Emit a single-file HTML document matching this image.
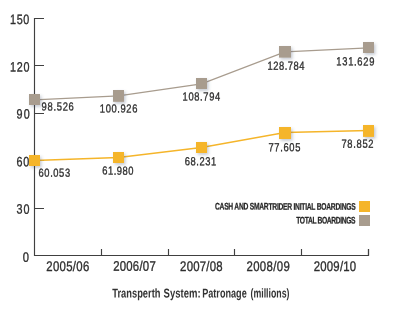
<!DOCTYPE html>
<html><head><meta charset="utf-8">
<style>
html,body{margin:0;padding:0;background:#fff;width:394px;height:310px;overflow:hidden}
svg{display:block;will-change:transform}
text{font-family:"Liberation Sans",sans-serif}
</style></head><body>
<svg width="394" height="310" viewBox="0 0 394 310">
<defs>
<filter id="sh" x="-50%" y="-50%" width="200%" height="200%">
<feDropShadow dx="1.5" dy="1.8" stdDeviation="1.5" flood-color="#40506a" flood-opacity="0.3"/>
</filter>
</defs>
<g stroke="#404040" stroke-width="1.15" fill="none">
<path d="M44 18.5H34.5V255.5H368.5V249"/>
<path d="M34.5 65.5H44M34.5 113.5H44M34.5 160.5H44M34.5 208.5H44M101.5 255.5V249M168.5 255.5V249M234.5 255.5V249M301.5 255.5V249M368.5 255.5V249"/>
</g>
<polyline points="34.5,99.8 118.5,95.8 201.5,83.8 285,51.8 368.5,47.8" fill="none" stroke="#a89c8e" stroke-width="1.3"/>
<polyline points="34.5,160.5 118.5,157.5 201.5,147.5 285,132.5 368.5,130.5" fill="none" stroke="#f5b52a" stroke-width="1.3"/>
<g filter="url(#sh)">
<rect x="29" y="94" width="11" height="11" fill="#a89c8e"/><rect x="113" y="90" width="11" height="11.8" fill="#a89c8e"/><rect x="196" y="78" width="11" height="11" fill="#a89c8e"/><rect x="279" y="46" width="12" height="11.6" fill="#a89c8e"/><rect x="363" y="42" width="11" height="11" fill="#a89c8e"/>
<rect x="29" y="155" width="11" height="11" fill="#f5b52a"/><rect x="113" y="152" width="11" height="11" fill="#f5b52a"/><rect x="196" y="142" width="11" height="11" fill="#f5b52a"/><rect x="279" y="127" width="12" height="12" fill="#f5b52a"/><rect x="363" y="125" width="11" height="11.9" fill="#f5b52a"/>
</g>
<rect x="359" y="201" width="11" height="11" fill="#f5b52a"/>
<rect x="359" y="215" width="11" height="11" fill="#a89c8e"/>
<text transform="translate(10.11,24.02) skewY(0.05) scale(0.8,1)" text-rendering="geometricPrecision" font-size="13.50" textLength="24.02" lengthAdjust="spacing" fill="#2e2e2e" stroke="#2e2e2e" stroke-width="0.35">150</text>
<text transform="translate(9.91,71.40) skewY(0.05) scale(0.8,1)" text-rendering="geometricPrecision" font-size="13.50" textLength="24.60" lengthAdjust="spacing" fill="#2e2e2e" stroke="#2e2e2e" stroke-width="0.35">120</text>
<text transform="translate(16.50,118.54) skewY(0.05) scale(0.8,1)" text-rendering="geometricPrecision" font-size="13.50" textLength="16.59" lengthAdjust="spacing" fill="#2e2e2e" stroke="#2e2e2e" stroke-width="0.35">90</text>
<text transform="translate(16.40,166.36) skewY(0.05) scale(0.8,1)" text-rendering="geometricPrecision" font-size="13.50" textLength="16.09" lengthAdjust="spacing" fill="#2e2e2e" stroke="#2e2e2e" stroke-width="0.35">60</text>
<text transform="translate(16.44,213.62) skewY(0.05) scale(0.8,1)" text-rendering="geometricPrecision" font-size="13.50" textLength="16.45" lengthAdjust="spacing" fill="#2e2e2e" stroke="#2e2e2e" stroke-width="0.35">30</text>
<text transform="translate(22.86,261.69) skewY(0.05)" text-rendering="geometricPrecision" font-size="13.50" textLength="6.24" lengthAdjust="spacingAndGlyphs" fill="#2e2e2e" stroke="#2e2e2e" stroke-width="0.35">0</text>
<text transform="translate(46.33,271.02) skewY(0.05) scale(0.82,1)" text-rendering="geometricPrecision" font-size="13.90" textLength="52.40" lengthAdjust="spacing" fill="#2e2e2e" stroke="#2e2e2e" stroke-width="0.35">2005/06</text>
<text transform="translate(113.13,270.74) skewY(0.05) scale(0.82,1)" text-rendering="geometricPrecision" font-size="13.90" textLength="52.02" lengthAdjust="spacing" fill="#2e2e2e" stroke="#2e2e2e" stroke-width="0.35">2006/07</text>
<text transform="translate(180.08,270.93) skewY(0.05) scale(0.82,1)" text-rendering="geometricPrecision" font-size="13.90" textLength="51.94" lengthAdjust="spacing" fill="#2e2e2e" stroke="#2e2e2e" stroke-width="0.35">2007/08</text>
<text transform="translate(246.52,270.90) skewY(0.05) scale(0.82,1)" text-rendering="geometricPrecision" font-size="13.90" textLength="52.70" lengthAdjust="spacing" fill="#2e2e2e" stroke="#2e2e2e" stroke-width="0.35">2008/09</text>
<text transform="translate(313.68,270.91) skewY(0.05) scale(0.82,1)" text-rendering="geometricPrecision" font-size="13.90" textLength="51.83" lengthAdjust="spacing" fill="#2e2e2e" stroke="#2e2e2e" stroke-width="0.35">2009/10</text>
<text transform="translate(41.53,110.38) skewY(0.05) scale(0.8,1)" text-rendering="geometricPrecision" font-size="11.70" textLength="40.34" lengthAdjust="spacing" fill="#2e2e2e" stroke="#2e2e2e" stroke-width="0.35">98.526</text>
<text transform="translate(99.85,112.56) skewY(0.05) scale(0.8,1)" text-rendering="geometricPrecision" font-size="11.70" textLength="46.88" lengthAdjust="spacing" fill="#2e2e2e" stroke="#2e2e2e" stroke-width="0.35">100.926</text>
<text transform="translate(182.58,100.42) skewY(0.05) scale(0.8,1)" text-rendering="geometricPrecision" font-size="11.70" textLength="47.07" lengthAdjust="spacing" fill="#2e2e2e" stroke="#2e2e2e" stroke-width="0.35">108.794</text>
<text transform="translate(267.47,69.83) skewY(0.05) scale(0.8,1)" text-rendering="geometricPrecision" font-size="11.70" textLength="46.26" lengthAdjust="spacing" fill="#2e2e2e" stroke="#2e2e2e" stroke-width="0.35">128.784</text>
<text transform="translate(336.32,65.36) skewY(0.05) scale(0.8,1)" text-rendering="geometricPrecision" font-size="11.70" textLength="47.57" lengthAdjust="spacing" fill="#2e2e2e" stroke="#2e2e2e" stroke-width="0.35">131.629</text>
<text transform="translate(38.59,176.85) skewY(0.05) scale(0.8,1)" text-rendering="geometricPrecision" font-size="11.70" textLength="39.40" lengthAdjust="spacing" fill="#2e2e2e" stroke="#2e2e2e" stroke-width="0.35">60.053</text>
<text transform="translate(102.25,174.62) skewY(0.05) scale(0.8,1)" text-rendering="geometricPrecision" font-size="11.70" textLength="39.10" lengthAdjust="spacing" fill="#2e2e2e" stroke="#2e2e2e" stroke-width="0.35">61.980</text>
<text transform="translate(184.84,165.14) skewY(0.05) scale(0.8,1)" text-rendering="geometricPrecision" font-size="11.70" textLength="39.28" lengthAdjust="spacing" fill="#2e2e2e" stroke="#2e2e2e" stroke-width="0.35">68.231</text>
<text transform="translate(268.39,151.27) skewY(0.05) scale(0.8,1)" text-rendering="geometricPrecision" font-size="11.70" textLength="40.11" lengthAdjust="spacing" fill="#2e2e2e" stroke="#2e2e2e" stroke-width="0.35">77.605</text>
<text transform="translate(341.42,147.80) skewY(0.05) scale(0.8,1)" text-rendering="geometricPrecision" font-size="11.70" textLength="40.16" lengthAdjust="spacing" fill="#2e2e2e" stroke="#2e2e2e" stroke-width="0.35">78.852</text>
<text transform="translate(214.95,209.58) skewY(0.05) scale(0.7,1)" text-rendering="geometricPrecision" font-size="9.60" textLength="201.03" lengthAdjust="spacing" fill="#262626" font-weight="bold" stroke="#262626" stroke-width="0.25">CASH AND SMARTRIDER INITIAL BOARDINGS</text>
<text transform="translate(296.28,223.47) skewY(0.05) scale(0.7,1)" text-rendering="geometricPrecision" font-size="9.60" textLength="84.65" lengthAdjust="spacing" fill="#262626" font-weight="bold" stroke="#262626" stroke-width="0.25">TOTAL BOARDINGS</text>
<text transform="translate(112.28,297.42) skewY(0.05)" text-rendering="geometricPrecision" font-size="12.80" textLength="48.17" lengthAdjust="spacingAndGlyphs" fill="#333333" font-weight="bold">Transperth</text>
<text transform="translate(163.58,297.42) skewY(0.05)" text-rendering="geometricPrecision" font-size="12.80" textLength="36.98" lengthAdjust="spacingAndGlyphs" fill="#333333" font-weight="bold">System:</text>
<text transform="translate(202.19,297.42) skewY(0.05)" text-rendering="geometricPrecision" font-size="12.80" textLength="44.52" lengthAdjust="spacingAndGlyphs" fill="#333333" font-weight="bold">Patronage</text>
<text transform="translate(250.47,297.42) skewY(0.05)" text-rendering="geometricPrecision" font-size="12.80" textLength="38.99" lengthAdjust="spacingAndGlyphs" fill="#333333" font-weight="bold">(millions)</text>
</svg>
</body></html>
